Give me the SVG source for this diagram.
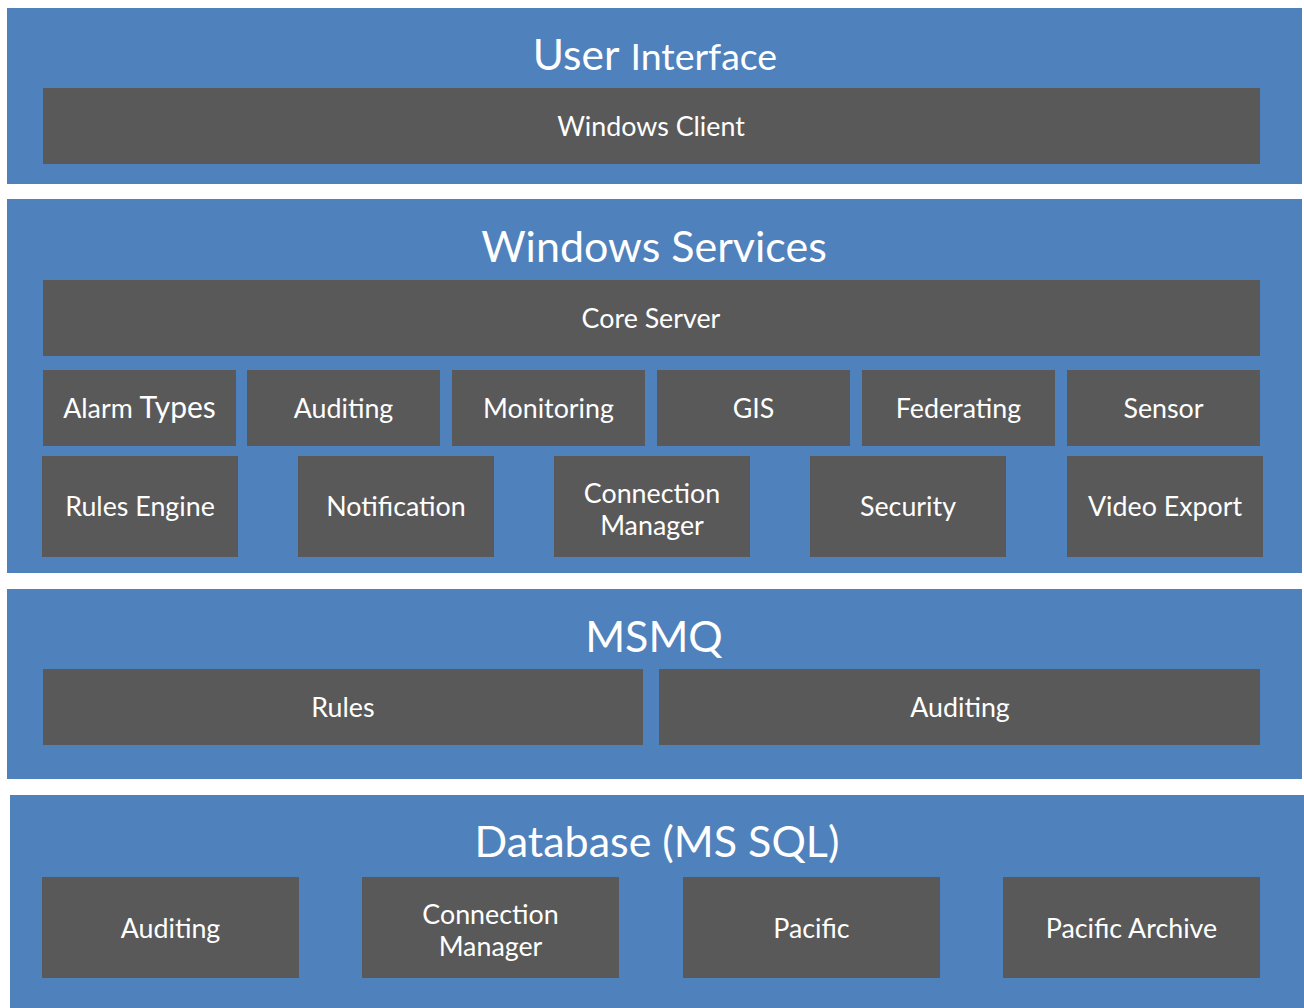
<svg xmlns="http://www.w3.org/2000/svg" width="1304" height="1008" viewBox="0 0 1304 1008">
<style>
.layer{fill:#4F81BD}
.box{fill:#595959}
.t{font-family:Lato,"Liberation Sans",sans-serif;fill:#FFFFFF;text-anchor:middle}
.title{font-size:43px}
.lbl{font-size:26.8px}
</style>
<rect width="1304" height="1008" fill="#FFFFFF"/>
<g id="layer-ui">
<rect class="layer" x="7" y="8" width="1295" height="176"/>
<text class="t title" x="655" y="70"><tspan style="font-size:42.5px">User</tspan> <tspan style="font-size:37.5px">Interface</tspan></text>
</g>
<g id="windows-client"><rect class="box" x="43" y="88" width="1217" height="76"/><text class="t lbl" x="651" y="136">Windows Client</text></g>

<g id="layer-services">
<rect class="layer" x="7" y="199" width="1295" height="374"/>
<text class="t title" x="654" y="262">Windows Services</text>
</g>
<g id="core-server"><rect class="box" x="43" y="280" width="1217" height="76"/><text class="t lbl" x="651" y="328">Core Server</text></g>
<g id="alarm-types"><rect class="box" x="43" y="370" width="193" height="76"/><text class="t lbl" x="139.5" y="418">Alarm <tspan style="font-size:30px">Types</tspan></text></g>
<g id="auditing-svc"><rect class="box" x="247" y="370" width="193" height="76"/><text class="t lbl" x="343.5" y="418">Auditing</text></g>
<g id="monitoring"><rect class="box" x="452" y="370" width="193" height="76"/><text class="t lbl" x="548.5" y="418">Monitoring</text></g>
<g id="gis"><rect class="box" x="657" y="370" width="193" height="76"/><text class="t lbl" x="753.5" y="418">GIS</text></g>
<g id="federating"><rect class="box" x="862" y="370" width="193" height="76"/><text class="t lbl" x="958.5" y="418">Federating</text></g>
<g id="sensor"><rect class="box" x="1067" y="370" width="193" height="76"/><text class="t lbl" x="1163.5" y="418">Sensor</text></g>
<g id="rules-engine"><rect class="box" x="42" y="456" width="196" height="101"/><text class="t lbl" x="140" y="516">Rules Engine</text></g>
<g id="notification"><rect class="box" x="298" y="456" width="196" height="101"/><text class="t lbl" x="396" y="516">Notification</text></g>
<g id="connection-manager-svc"><rect class="box" x="554" y="456" width="196" height="101"/><text class="t lbl" x="652" y="503">Connection</text><text class="t lbl" x="652" y="535">Manager</text></g>
<g id="security"><rect class="box" x="810" y="456" width="196" height="101"/><text class="t lbl" x="908" y="516">Security</text></g>
<g id="video-export"><rect class="box" x="1067" y="456" width="196" height="101"/><text class="t lbl" x="1165" y="516">Video Export</text></g>

<g id="layer-msmq">
<rect class="layer" x="7" y="589" width="1295" height="190"/>
<text class="t title" x="654" y="652">MSMQ</text>
</g>
<g id="rules-q"><rect class="box" x="43" y="669" width="600" height="76"/><text class="t lbl" x="343" y="717">Rules</text></g>
<g id="auditing-q"><rect class="box" x="659" y="669" width="601" height="76"/><text class="t lbl" x="960" y="717">Auditing</text></g>

<g id="layer-db">
<rect class="layer" x="10" y="795" width="1294" height="213"/>
<text class="t title" x="657" y="857">Database (MS SQL)</text>
</g>
<g id="auditing-db"><rect class="box" x="42" y="877" width="257" height="101"/><text class="t lbl" x="170.5" y="938">Auditing</text></g>
<g id="connection-manager-db"><rect class="box" x="362" y="877" width="257" height="101"/><text class="t lbl" x="490.5" y="924">Connection</text><text class="t lbl" x="490.5" y="956">Manager</text></g>
<g id="pacific"><rect class="box" x="683" y="877" width="257" height="101"/><text class="t lbl" x="811.5" y="938">Pacific</text></g>
<g id="pacific-archive"><rect class="box" x="1003" y="877" width="257" height="101"/><text class="t lbl" x="1131.5" y="938">Pacific Archive</text></g>
<g id="connectors"></g>
</svg>
